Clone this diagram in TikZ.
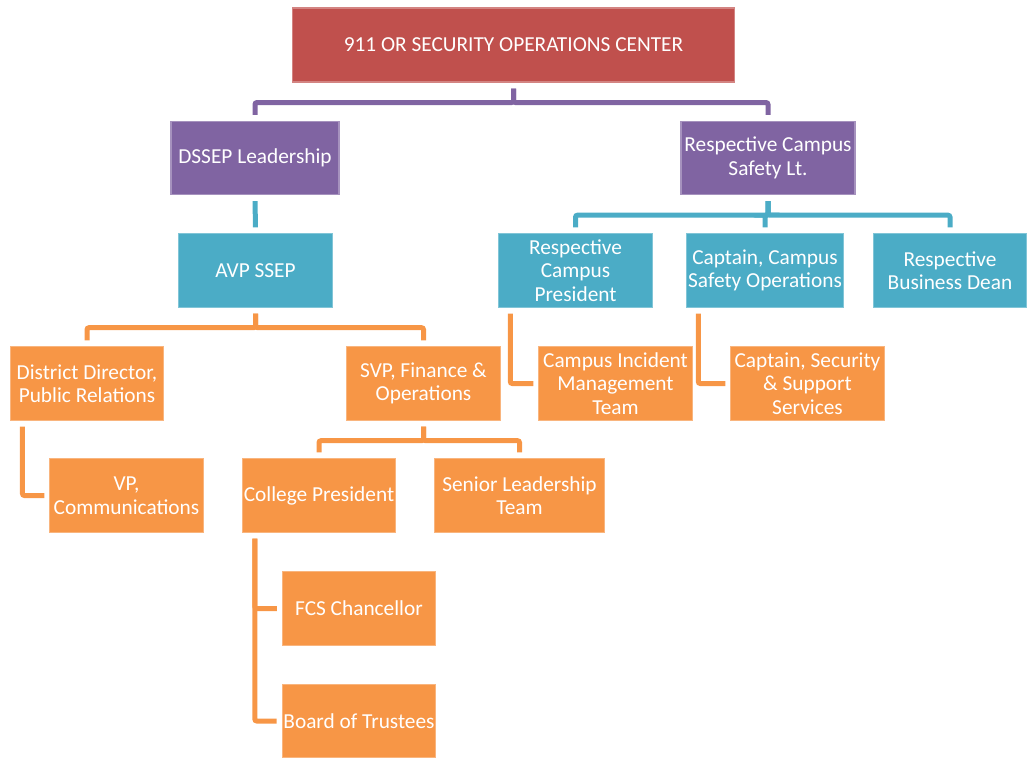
\documentclass[tikz,border=0pt]{standalone}
\usepackage{fontspec}
\setmainfont{Carlito}
\usepackage{tikz}
\usetikzlibrary{positioning}
\definecolor{socred}{HTML}{C0504D}
\definecolor{leadpurple}{HTML}{8064A2}
\definecolor{campusteal}{HTML}{4BACC6}
\definecolor{unitorange}{HTML}{F79646}
\tikzstyle{box} = [rectangle,align=center,text=white,inner sep=1pt,
	minimum width=115pt,minimum height=55pt,line width=0.8pt,
	font=\fontsize{16}{17.6}\selectfont]
\tikzstyle{redbox} = [box,fill=socred,draw=socred!70!white]
\tikzstyle{purplebox} = [box,fill=leadpurple,draw=leadpurple!70!white]
\tikzstyle{tealbox} = [box,fill=campusteal,draw=campusteal!70!white]
\tikzstyle{orangebox} = [box,fill=unitorange,draw=unitorange!70!white]
\tikzstyle{link} = [line width=3.75pt,rounded corners=1.5pt,shorten <=4.5pt,shorten >=4.5pt]
\tikzstyle{purpleline} = [link,draw=leadpurple]
\tikzstyle{tealline} = [link,draw=campusteal]
\tikzstyle{orangeline} = [link,draw=unitorange]
\begin{document}
\begin{tikzpicture}[x=0.75pt,y=-0.75pt]
\useasboundingbox (0,0) rectangle (1027,757);

% top level
\node[redbox,minimum width=332pt,minimum height=55.5pt] (soc) at (513.5,45) {911 OR SECURITY OPERATIONS CENTER};

\node[purplebox,minimum width=126pt] (dssep) at (255,158) {DSSEP Leadership};
\node[purplebox,minimum width=130.5pt] (safety) at (768,158) {Respective Campus\\Safety Lt.};

% teal row
\node[tealbox] (avp) at (255.5,270.5) {AVP SSEP};
\node[tealbox] (crp) at (575.5,270.5) {Respective\\Campus\\President};
\node[tealbox,minimum width=117pt] (cso) at (765,270.5) {Captain, Campus\\Safety Operations};
\node[tealbox] (rbd) at (950,270.5) {Respective\\Business Dean};

% orange rows
\node[orangebox] (dd) at (87,383.5) {District Director,\\Public Relations};
\node[orangebox] (svp) at (423.5,383.5) {SVP, Finance \&\\Operations};
\node[orangebox] (cimt) at (615.5,383.5) {Campus Incident\\Management\\Team};
\node[orangebox] (csss) at (807.5,383.5) {Captain, Security\\\& Support\\Services};

\node[orangebox] (vp) at (126.5,495.5) {VP,\\Communications};
\node[orangebox] (cp) at (319,495.5) {College President};
\node[orangebox,minimum width=127pt] (slt) at (519.5,495.5) {Senior Leadership\\Team};

\node[orangebox] (fcs) at (359,608.5) {FCS Chancellor};
\node[orangebox] (bot) at (359,721) {Board of Trustees};

% connectors
\foreach \kid in {dssep,safety}
	\draw[purpleline] (soc.south) -- ++(0,20) -| (\kid.north);
\draw[tealline] (dssep.south) -- (avp.north);
\foreach \kid in {crp,cso,rbd}
	\draw[tealline] (safety.south) -- ++(0,20) -| (\kid.north);
\foreach \kid in {dd,svp}
	\draw[orangeline] (avp.south) -- ++(0,20) -| (\kid.north);
\foreach \kid in {cp,slt}
	\draw[orangeline] (svp.south) -- ++(0,20) -| (\kid.north);

\draw[orangeline,shorten >=3.75pt] ([xshift=9.5pt]dd.south west) |- (vp.west);
\draw[orangeline,shorten >=3.75pt] ([xshift=9pt]crp.south west) |- (cimt.west);
\draw[orangeline,shorten >=3.75pt] ([xshift=9pt]cso.south west) |- (csss.west);
\foreach \kid in {fcs,bot}
	\draw[orangeline,shorten >=3.75pt] ([xshift=9.75pt]cp.south west) |- (\kid.west);
\end{tikzpicture}
\end{document}
